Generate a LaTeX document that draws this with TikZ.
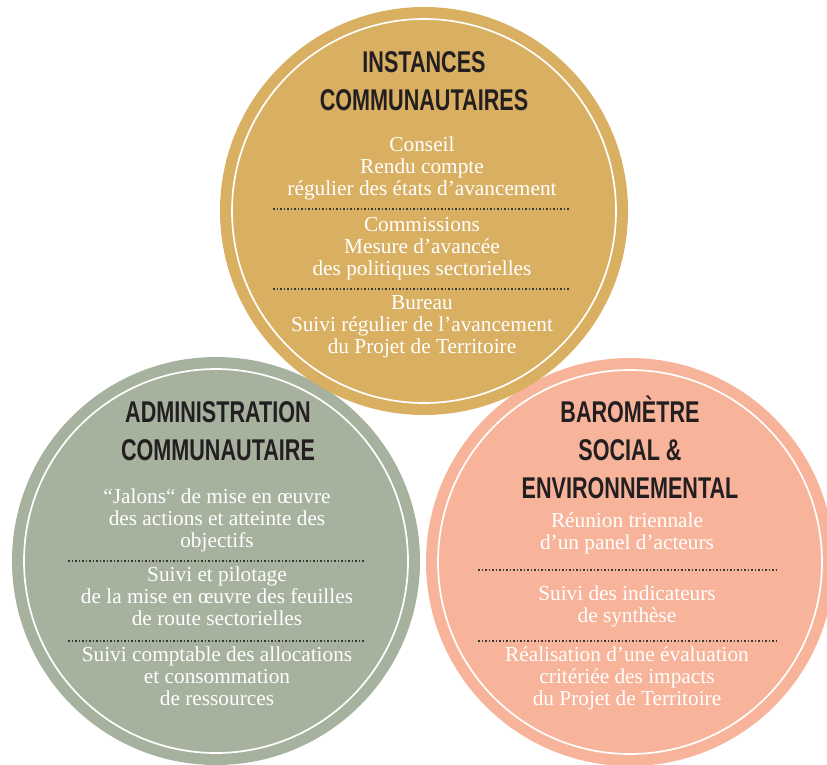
\documentclass[tikz,border=0pt]{standalone}
\usepackage{fontspec}
\setmainfont{Liberation Serif}
\newfontfamily\headfont[FakeStretch=0.72]{Liberation Sans}
\definecolor{goldc}{HTML}{D9AF62}
\definecolor{sagec}{HTML}{A6B19E}
\definecolor{salmonc}{HTML}{F8B49B}
\definecolor{inkc}{HTML}{231F20}
\definecolor{dotc}{HTML}{3A3633}
\tikzset{bubble/.style={circle, minimum size=408pt, inner sep=0pt}}
\tikzset{ring/.style={draw=white, line width=1.7pt}}
% base anchor of a multi-line node sits on its last line
\tikzset{head/.style={anchor=base, align=center, text=inkc, font=\headfont\bfseries\fontsize{30}{38}\selectfont}}
\tikzset{body/.style={anchor=base, align=center, text=white, font=\fontsize{21.3}{22}\selectfont}}
\tikzset{sep/.style={dotc, line width=1.5pt, dash pattern=on 1.5pt off 2pt}}

\begin{document}
\begin{tikzpicture}[x=1pt, y=-1pt]
  \useasboundingbox (0,0) rectangle (827,764);
  % the three discs
  \node[bubble, fill=sagec] (admin) at (216,561) {};
  \draw[ring] (admin.center) circle (192);
  \node[bubble, fill=salmonc] (baro) at (630,562) {};
  \draw[ring] (baro.center) circle (192);
  \node[bubble, fill=goldc] (inst) at (424,211) {};
  \draw[ring] (inst.center) circle (192);

  % instances communautaires
  \node[head] (insthead) at (424,110) {INSTANCES\\COMMUNAUTAIRES};
  \node[body] (conseil) at (422,195) {Conseil\\Rendu compte\\régulier des états d’avancement};
  \draw[sep] (273,209) -- (570,209);
  \node[body] (commis) at (422,275) {Commissions\\Mesure d’avancée\\des politiques sectorielles};
  \draw[sep] (273,289) -- (570,289);
  \node[body] (bureau) at (422,353) {Bureau\\Suivi régulier de l’avancement\\du Projet de Territoire};

  % administration communautaire
  \node[head] (adminhead) at (218,460) {ADMINISTRATION\\COMMUNAUTAIRE};
  \node[body] (jalons) at (217,547) {“Jalons“ de mise en œuvre\\des actions et atteinte des\\objectifs};
  \draw[sep] (68,561) -- (365,561);
  \node[body] (pilot) at (217,625) {Suivi et pilotage\\de la mise en œuvre des feuilles\\de route sectorielles};
  \draw[sep] (68,641) -- (365,641);
  \node[body] (compta) at (217,705) {Suivi comptable des allocations\\et consommation\\de ressources};

  % barometre
  \node[head] (barohead) at (630,498) {BAROMÈTRE\\SOCIAL \&\\ENVIRONNEMENTAL};
  \node[body] (panel) at (627,549) {Réunion triennale\\d’un panel d’acteurs};
  \draw[sep] (478,570) -- (777,570);
  \node[body] (indic) at (627,622) {Suivi des indicateurs\\de synthèse};
  \draw[sep] (478,641) -- (777,641);
  \node[body] (evalu) at (627,705) {Réalisation d’une évaluation\\critériée des impacts\\du Projet de Territoire};
\end{tikzpicture}
\end{document}
